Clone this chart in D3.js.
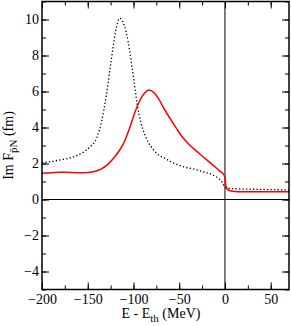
<!DOCTYPE html>
<html>
<head>
<meta charset="utf-8">
<script src="https://cdn.jsdelivr.net/npm/d3@7"></script>
<style>
    body { margin: 0; background: #fff; }
    svg text { font-family: "Liberation Serif", "DejaVu Serif", serif; fill: #000; }
</style>
</head>
<body>
<div id="chart"></div>
<script>
// curve values (E - Eth in MeV, Im F in fm)
const dottedE = [-200, -180, -165, -155, -148, -140, -135, -130, -125, -120, -117, -115, -112, -108, -104, -100, -96, -92, -88, -84, -78, -72, -66, -60, -50, -44, -35, -22, -14, -8, -4, -2, 0, 3, 10, 30, 50, 70]
const dottedV = [2.04, 2.2, 2.38, 2.62, 2.9, 3.45, 4.3, 5.7, 7.5, 9.2, 9.9, 10.07, 9.9, 9.3, 8.2, 6.8, 5.3, 4.3, 3.65, 3.2, 2.75, 2.45, 2.3, 2.12, 1.9, 1.8, 1.7, 1.52, 1.38, 1.2, 1.02, 0.85, 0.68, 0.63, 0.6, 0.57, 0.55, 0.53]

const redE = [-200, -185, -175, -160, -150, -140, -135, -128, -120, -115, -110, -104, -98, -93, -88, -83, -78, -72, -66, -60, -53, -47, -40, -29, -20, -11, -5, -1, 0, 1, 3, 8, 20, 70]
const redV = [1.46, 1.5, 1.52, 1.48, 1.5, 1.6, 1.7, 1.95, 2.4, 2.75, 3.2, 4.0, 4.9, 5.5, 5.9, 6.08, 5.95, 5.55, 5.0, 4.5, 3.95, 3.5, 3.1, 2.6, 2.2, 1.82, 1.55, 1.36, 1.25, 0.75, 0.55, 0.46, 0.43, 0.43]

const xTicks = [-200, -150, -100, -50, 0, 50]
const yTicks = [-4, -2, 0, 2, 4, 6, 8, 10]

buildChart()

function buildChart() {
    let W = 291, H = 326
    let svg = d3.select("#chart").append("svg")
                .attr("width", W)
                .attr("height", H)

    let x = d3.scaleLinear().domain([-200, 70]).range([42, 289])
    let y = d3.scaleLinear().domain([-5, 11]).range([289.5, 1.5])

    let dotted = dottedE.map((e, i) => [e, dottedV[i]])
    let red = redE.map((e, i) => [e, redV[i]])

    // zero lines
    svg.append("line")
        .attr("x1", x(-200)).attr("x2", x(70))
        .attr("y1", y(0)).attr("y2", y(0))
        .attr("stroke", "#000").attr("stroke-width", 1)
    svg.append("line")
        .attr("x1", x(0)).attr("x2", x(0))
        .attr("y1", y(-5)).attr("y2", y(11))
        .attr("stroke", "#000").attr("stroke-width", 1)

    let line = d3.line()
                .x(d => x(d[0]))
                .y(d => y(d[1]))
                .curve(d3.curveMonotoneX)

    svg.append("path")
        .attr("d", line(dotted))
        .attr("fill", "none")
        .attr("stroke", "#000")
        .attr("stroke-width", 1.3)
        .attr("stroke-dasharray", "1.3,2.2")

    svg.append("path")
        .attr("d", line(red))
        .attr("fill", "none")
        .attr("stroke", "#ff0000")
        .attr("stroke-width", 1.5)

    // axes with inward ticks on all four sides
    let minorX = d3.range(-200, 71, 25)
    let minorY = d3.range(-5, 11.1, 1)

    svg.append("g").attr("transform", `translate(0,${y(-5)})`)
        .call(d3.axisBottom(x).tickValues(minorX).tickSize(-4).tickFormat(""))
    svg.append("g").attr("transform", `translate(0,${y(-5)})`)
        .call(d3.axisBottom(x).tickValues(xTicks).tickSize(-7).tickPadding(5).tickFormat(d3.format("d")))
    svg.append("g").attr("transform", `translate(0,${y(11)})`)
        .call(d3.axisTop(x).tickValues(minorX).tickSize(-4).tickFormat(""))
    svg.append("g").attr("transform", `translate(0,${y(11)})`)
        .call(d3.axisTop(x).tickValues(xTicks).tickSize(-7).tickFormat(""))

    svg.append("g").attr("transform", `translate(${x(-200)},0)`)
        .call(d3.axisLeft(y).tickValues(minorY).tickSize(-4).tickFormat(""))
    svg.append("g").attr("transform", `translate(${x(-200)},0)`)
        .call(d3.axisLeft(y).tickValues(yTicks).tickSize(-7).tickPadding(3).tickFormat(d3.format("d")))
    svg.append("g").attr("transform", `translate(${x(70)},0)`)
        .call(d3.axisRight(y).tickValues(minorY).tickSize(-4).tickFormat(""))
    svg.append("g").attr("transform", `translate(${x(70)},0)`)
        .call(d3.axisRight(y).tickValues(yTicks).tickSize(-7).tickFormat(""))

    svg.selectAll(".domain").remove()
    svg.selectAll("g").attr("font-family", "Liberation Serif")
    svg.selectAll(".tick line").attr("stroke", "#000").attr("stroke-width", 1)
    svg.selectAll(".tick text")
        .style("font-size", "14px")
        .attr("fill", "#000")

    // frame
    svg.append("rect")
        .attr("x", x(-200)).attr("y", y(11))
        .attr("width", x(70) - x(-200)).attr("height", y(-5) - y(11))
        .attr("fill", "none").attr("stroke", "#000").attr("stroke-width", 1.5)

    // axis titles
    let xt = svg.append("text")
        .attr("x", 161).attr("y", 318)
        .attr("text-anchor", "middle")
        .style("font-size", "14px")
    xt.append("tspan").text("E - E")
    xt.append("tspan").attr("dy", 4).style("font-size", "11px").text("th")
    xt.append("tspan").attr("dy", -4).text(" (MeV)")

    let yt = svg.append("text")
        .attr("transform", `translate(13,${(y(11) + y(-5)) / 2}) rotate(-90)`)
        .attr("text-anchor", "middle")
        .style("font-size", "14px")
    yt.append("tspan").text("Im F")
    yt.append("tspan").attr("dy", 4).style("font-size", "11px").text("p\u0304N")
    yt.append("tspan").attr("dy", -4).text(" (fm)")
}
</script>
</body>
</html>
